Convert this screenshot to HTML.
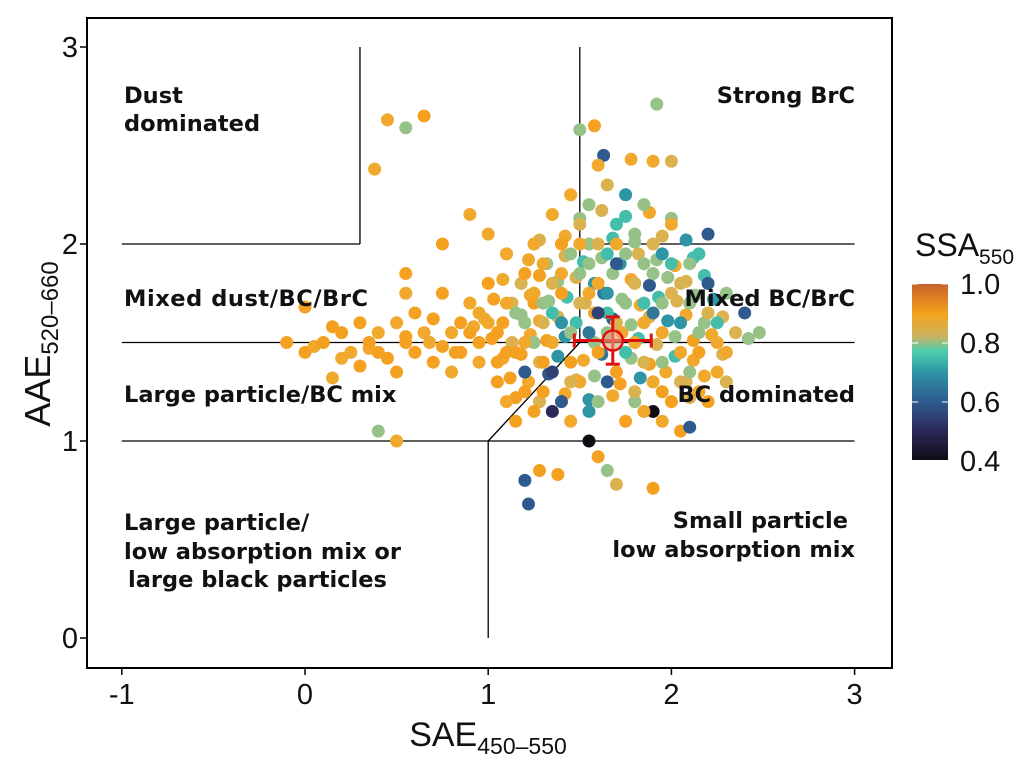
<!DOCTYPE html>
<html><head><meta charset="utf-8"><style>
body{margin:0;background:#fff}
svg{display:block;font-family:"Liberation Sans",sans-serif}
.lab{font-family:"DejaVu Sans",sans-serif;font-weight:bold;font-size:22.5px;fill:#111}
</style></head><body>
<svg id="chart" width="1035" height="762" viewBox="0 0 1035 762">
<defs><linearGradient id="cb" x1="0" y1="1" x2="0" y2="0">
<stop offset="0" stop-color="#0f0c14"/><stop offset="0.17" stop-color="#2d2a5a"/><stop offset="0.33" stop-color="#2e5a8e"/><stop offset="0.5" stop-color="#2f95a5"/><stop offset="0.62" stop-color="#4ccfae"/><stop offset="0.7" stop-color="#c8b464"/><stop offset="0.83" stop-color="#f5a31a"/><stop offset="1" stop-color="#c8622e"/></linearGradient></defs>
<g id="bounds"></g>
<g id="pts"></g>
<g id="err"></g>
<rect x="87" y="18" width="805" height="650" fill="none" stroke="#000" stroke-width="2"/>
<g>
<text class="lab" x="124" y="103">Dust</text>
<text class="lab" x="124" y="131">dominated</text>
<text class="lab" x="855" y="103" text-anchor="end">Strong BrC</text>
<text class="lab" x="124" y="306" textLength="244">Mixed dust/BC/BrC</text>
<text class="lab" x="855" y="306" text-anchor="end">Mixed BC/BrC</text>
<text class="lab" x="124" y="402">Large particle/BC mix</text>
<text class="lab" x="855" y="402" text-anchor="end">BC dominated</text>
<text class="lab" x="124" y="530">Large particle/</text>
<text class="lab" x="124" y="559">low absorption mix or</text>
<text class="lab" x="128" y="587">large black particles</text>
<text class="lab" x="848" y="528" text-anchor="end">Small particle</text>
<text class="lab" x="855" y="557" text-anchor="end">low absorption mix</text>
</g>
<g id="axes"></g>
<text x="488" y="746" text-anchor="middle" font-size="34" fill="#111">SAE<tspan font-size="23" dy="8">450–550</tspan></text>
<text transform="translate(50,344) rotate(-90)" text-anchor="middle" font-size="36" fill="#111">AAE<tspan font-size="24" dy="8">520–660</tspan></text>
<g>
<text x="915" y="256" font-size="32" fill="#111">SSA<tspan font-size="21" dy="8">550</tspan></text>
<rect x="912" y="284" width="36" height="176" fill="url(#cb)"/>
<g id="cbt"></g>
</g>
</svg>
<script>
const xTicks=[-1,0,1,2,3];
const yTicks=[0,1,2,3];
const cbTicks=[0.4,0.6,0.8,1.0];
const meanX=1.68, meanY=1.51, errX=0.21, errY=0.12;
const xs=[0.45,0.55,0.65,0.38,1.92,1.5,1.58,1.63,1.78,1.9,2.0,1.25,1.0,0.9,0.55,0.75,2.2,2.4,2.48,2.3,1.2,1.22,1.28,1.38,1.55,1.6,1.65,1.7,1.9,1.9,2.05,2.1,0.4,0.5,0.0,-0.1,0.05,0.15,0.0,2.15,2.3,
1.05,1.1,1.15,1.2,1.25,1.3,1.35,1.4,1.45,1.5,1.55,1.6,1.65,1.7,1.75,1.8,1.85,1.9,1.95,2.0,2.05,2.1,2.15,2.2,2.25,1.3,1.4,1.5,1.6,1.7,1.8,1.9,2.0,2.1,1.35,1.25,1.45,1.55,1.75,1.95,1.6,1.7,1.8,1.55,1.65,1.75,1.6,1.85,1.5,1.45,1.4,1.3,1.2,1.1,1.0,0.95,0.9,0.85,0.95,1.05,1.1,1.15,1.2,1.25,1.35,1.45,1.55,1.65,1.75,1.85,1.95,2.05,2.15,2.25,2.3,2.35,2.2,2.1,2.0,1.9,1.8,1.7,1.6,1.5,1.4,1.3,1.2,1.1,1.0,1.15,1.25,1.35,1.45,1.55,1.65,1.75,1.85,1.95,2.05,2.15,2.25,2.2,2.05,1.85,1.65,1.45,1.35,1.2,1.05,0.95,1.7,1.9,2.0,1.95,1.85,1.65,1.5,1.4,1.3,1.6,
0.1,0.2,0.25,0.3,0.35,0.4,0.45,0.5,0.55,0.6,0.65,0.7,0.75,0.8,0.85,0.9,0.7,0.6,0.4,0.2,0.5,0.3,0.8,0.75,0.55];
const ys=[2.63,2.59,2.65,2.38,2.71,2.58,2.6,2.45,2.43,2.42,2.42,2.0,2.05,2.15,1.85,2.0,2.05,1.65,1.55,1.75,0.8,0.68,0.85,0.83,1.0,0.92,0.85,0.78,0.76,1.15,1.05,1.07,1.05,1.0,1.45,1.5,1.48,1.32,1.68,1.25,1.3,
1.55,1.7,1.45,1.6,1.75,1.4,1.65,1.85,1.55,1.7,1.9,1.45,1.75,1.6,1.95,1.5,1.7,1.85,1.55,1.75,1.6,1.9,1.45,1.65,1.5,1.25,1.2,1.3,1.2,1.35,1.25,1.3,1.2,1.35,1.35,1.15,1.1,1.15,1.1,1.1,2.0,2.1,2.05,2.2,2.3,2.25,2.4,2.2,2.1,2.25,2.0,1.9,1.85,1.95,1.8,1.65,1.55,1.45,1.4,1.3,1.2,1.1,1.35,1.5,1.5,1.4,1.55,1.55,1.45,1.4,1.4,1.45,1.55,1.6,1.45,1.55,1.8,1.7,1.9,1.65,1.8,1.9,1.8,1.85,1.75,1.6,1.5,1.45,1.6,1.65,1.7,1.8,1.95,1.75,1.65,1.7,1.6,1.7,1.8,1.95,1.35,1.2,1.3,1.15,1.3,1.3,1.15,1.25,1.4,1.5,2.0,2.0,2.1,1.95,1.9,1.95,2.0,1.6,1.7,1.65,
1.5,1.55,1.45,1.6,1.5,1.55,1.42,1.6,1.5,1.45,1.55,1.62,1.48,1.55,1.6,1.7,1.4,1.65,1.45,1.42,1.35,1.38,1.35,1.75,1.75];
const ssa=[0.9,0.8,0.95,0.9,0.8,0.8,0.95,0.6,0.9,0.9,0.85,0.9,0.9,0.9,0.95,0.95,0.6,0.6,0.8,0.8,0.6,0.6,0.95,0.95,0.4,0.95,0.8,0.85,0.95,0.4,0.95,0.6,0.8,0.9,0.95,0.95,0.9,0.9,0.95,0.9,0.85,
0.95,0.9,0.95,0.8,0.9,0.95,0.75,0.9,0.8,0.85,0.8,0.95,0.7,0.85,0.8,0.9,0.75,0.8,0.9,0.85,0.7,0.8,0.95,0.85,0.9,0.95,0.6,0.9,0.8,0.95,0.85,0.9,0.95,0.8,0.55,0.95,0.9,0.7,0.95,0.9,0.85,0.75,0.8,0.8,0.85,0.7,0.9,0.8,0.85,0.9,0.95,0.9,0.95,0.9,0.95,0.9,0.95,0.95,0.9,0.95,0.9,0.95,0.6,0.8,0.9,0.95,0.65,0.8,0.75,0.85,0.8,0.9,0.8,0.75,0.9,0.85,0.6,0.8,0.75,0.65,0.85,0.6,0.9,0.8,0.95,0.85,0.9,0.95,0.9,0.8,0.95,0.85,0.8,0.9,0.75,0.8,0.9,0.8,0.85,0.75,0.9,0.95,0.85,0.9,0.6,0.85,0.5,0.95,0.95,0.95,0.9,0.85,0.9,0.7,0.8,0.75,0.9,0.7,0.8,0.55,
0.95,0.95,0.9,0.95,0.95,0.9,0.95,0.9,0.95,0.95,0.9,0.95,0.95,0.9,0.95,0.9,0.95,0.95,0.95,0.9,0.95,0.95,0.9,0.95,0.9];
const xs2=[1.12,1.22,1.33,1.48,1.58,1.72,1.83,1.97,2.08,2.18,
1.08,1.18,1.28,1.38,1.52,1.62,1.78,1.88,2.02,2.12,2.28,
1.02,1.13,1.23,1.32,1.42,1.58,1.73,1.82,1.92,2.02,2.12,2.22,2.42,
0.98,1.08,1.18,1.28,1.38,1.48,1.58,1.68,1.78,1.88,1.98,2.08,2.18,2.28,
1.03,1.13,1.23,1.33,1.43,1.53,1.63,1.73,1.83,1.93,2.03,2.13,2.23,
1.08,1.18,1.28,1.38,1.48,1.58,1.68,1.78,1.88,1.98,2.08,2.18,
1.22,1.32,1.42,1.52,1.62,1.72,1.82,1.92,2.02,2.12,
1.28,1.42,1.55,1.68,1.8,1.95,2.08,
1.35,1.5,1.62,1.75,1.88,2.0,
1.15,1.28,1.42,1.55,1.68,1.8,1.95,2.1,
0.15,0.35,0.55,0.68,0.82,0.92];
const ys2=[1.32,1.3,1.34,1.31,1.33,1.29,1.32,1.35,1.3,1.33,
1.42,1.44,1.4,1.43,1.41,1.44,1.42,1.39,1.43,1.41,1.44,
1.52,1.5,1.54,1.51,1.53,1.5,1.55,1.52,1.49,1.53,1.51,1.54,1.52,
1.62,1.6,1.64,1.61,1.63,1.6,1.65,1.62,1.59,1.63,1.61,1.64,1.6,1.63,
1.72,1.7,1.74,1.71,1.73,1.7,1.75,1.72,1.69,1.73,1.71,1.74,1.72,
1.82,1.8,1.84,1.81,1.83,1.8,1.85,1.82,1.79,1.83,1.81,1.84,
1.92,1.9,1.94,1.91,1.93,1.9,1.95,1.92,1.89,1.93,
2.02,2.04,2.0,2.03,2.01,2.04,2.02,
2.15,2.13,2.17,2.14,2.16,2.13,
1.22,1.2,1.24,1.21,1.23,1.2,1.25,1.22,
1.58,1.47,1.53,1.5,1.45,1.58];
const ssa2=[0.95,0.9,0.6,0.85,0.8,0.95,0.7,0.9,0.85,0.9,
0.9,0.95,0.85,0.7,0.9,0.65,0.8,0.95,0.75,0.9,0.85,
0.95,0.85,0.9,0.95,0.7,0.8,0.9,0.75,0.85,0.8,0.95,0.9,0.8,
0.9,0.95,0.8,0.9,0.85,0.75,0.9,0.6,0.8,0.85,0.7,0.9,0.8,0.85,
0.95,0.85,0.9,0.8,0.75,0.85,0.65,0.8,0.9,0.75,0.85,0.8,0.7,
0.9,0.85,0.95,0.8,0.85,0.7,0.8,0.9,0.6,0.8,0.85,0.75,
0.9,0.8,0.85,0.75,0.8,0.7,0.85,0.8,0.9,0.75,
0.85,0.9,0.8,0.75,0.8,0.85,0.7,
0.9,0.8,0.85,0.75,0.9,0.8,
0.95,0.85,0.9,0.7,0.9,0.8,0.95,0.85,
0.95,0.9,0.95,0.9,0.95,0.9];
const NS='http://www.w3.org/2000/svg';
const X=v=>305+(v)*183.2, Y=v=>638-v*197;
const CB=v=>284+(1.0-v)*295;
function mk(tag,attrs,parent){const e=document.createElementNS(NS,tag);for(const k in attrs)e.setAttribute(k,attrs[k]);parent.appendChild(e);return e;}
const stops=[[0.4,[15,12,20]],[0.5,[45,42,90]],[0.6,[46,90,142]],[0.7,[47,149,165]],[0.77,[76,207,174]],[0.82,[200,185,110]],[0.88,[238,170,50]],[0.96,[245,160,30]],[1.03,[200,98,46]]];
function col(s){s=Math.max(0.4,Math.min(1.03,s));for(let i=0;i<stops.length-1;i++){const a=stops[i],b=stops[i+1];if(s<=b[0]){const t=(s-a[0])/(b[0]-a[0]);const c=a[1].map((v,j)=>Math.round(v+(b[1][j]-v)*t));return `rgb(${c})`;}}return 'rgb(200,98,46)';}
const segs=[[0.3,2,0.3,3],[-1,2,0.3,2],[1.5,1.5,1.5,3],[1.5,2,3,2],[-1,1.5,3,1.5],[-1,1,3,1],[1,0,1,1],[1,1,1.5,1.5]];
const bg=document.getElementById('bounds');
segs.forEach(s=>{const l=mk('line',{x1:X(s[0]),y1:Y(s[1]),x2:X(s[2]),y2:Y(s[3]),stroke:'#000','stroke-width':1.3},bg);

});
const pg=document.getElementById('pts');
function drawPts(px,py,ps){px.forEach((x,i)=>{const c=mk('circle',{cx:X(x),cy:Y(py[i]),r:6.5,fill:col(ps[i])},pg);

});}
drawPts(xs2,ys2,ssa2);
drawPts(xs,ys,ssa);
const eg=document.getElementById('err');
mk('line',{x1:X(meanX-errX),y1:Y(meanY),x2:X(meanX+errX),y2:Y(meanY),stroke:'#e01010','stroke-width':3},eg);
mk('line',{x1:X(meanX),y1:Y(meanY-errY),x2:X(meanX),y2:Y(meanY+errY),stroke:'#e01010','stroke-width':3},eg);
mk('line',{x1:X(meanX-errX),y1:Y(meanY)-7,x2:X(meanX-errX),y2:Y(meanY)+7,stroke:'#e01010','stroke-width':3},eg);
mk('line',{x1:X(meanX+errX),y1:Y(meanY)-7,x2:X(meanX+errX),y2:Y(meanY)+7,stroke:'#e01010','stroke-width':3},eg);
mk('line',{x1:X(meanX)-7,y1:Y(meanY-errY),x2:X(meanX)+7,y2:Y(meanY-errY),stroke:'#e01010','stroke-width':3},eg);
mk('line',{x1:X(meanX)-7,y1:Y(meanY+errY),x2:X(meanX)+7,y2:Y(meanY+errY),stroke:'#e01010','stroke-width':3},eg);
mk('circle',{cx:X(meanX),cy:Y(meanY),r:10,fill:'rgba(230,160,120,0.6)',stroke:'#e01010','stroke-width':2.5},eg);
const ax=document.getElementById('axes');
xTicks.forEach(t=>{mk('line',{x1:X(t),y1:668,x2:X(t),y2:675,stroke:'#000','stroke-width':1.5},ax);
const tx=mk('text',{x:X(t),y:704,'text-anchor':'middle','font-size':29,fill:'#111'},ax);tx.textContent=t;

});
yTicks.forEach(t=>{mk('line',{x1:80,y1:Y(t),x2:87,y2:Y(t),stroke:'#000','stroke-width':1.5},ax);
const tx=mk('text',{x:78,y:Y(t)+10,'text-anchor':'end','font-size':29,fill:'#111'},ax);tx.textContent=t;

});
const cg=document.getElementById('cbt');
cbTicks.forEach(t=>{const tx=mk('text',{x:960,y:CB(t)+10,'font-size':29,fill:'#111'},cg);tx.textContent=t.toFixed(1);


mk('line',{x1:912,y1:CB(t),x2:918,y2:CB(t),stroke:'#fff','stroke-width':1},cg);mk('line',{x1:942,y1:CB(t),x2:948,y2:CB(t),stroke:'#fff','stroke-width':1},cg);});
</script>
</body></html>
